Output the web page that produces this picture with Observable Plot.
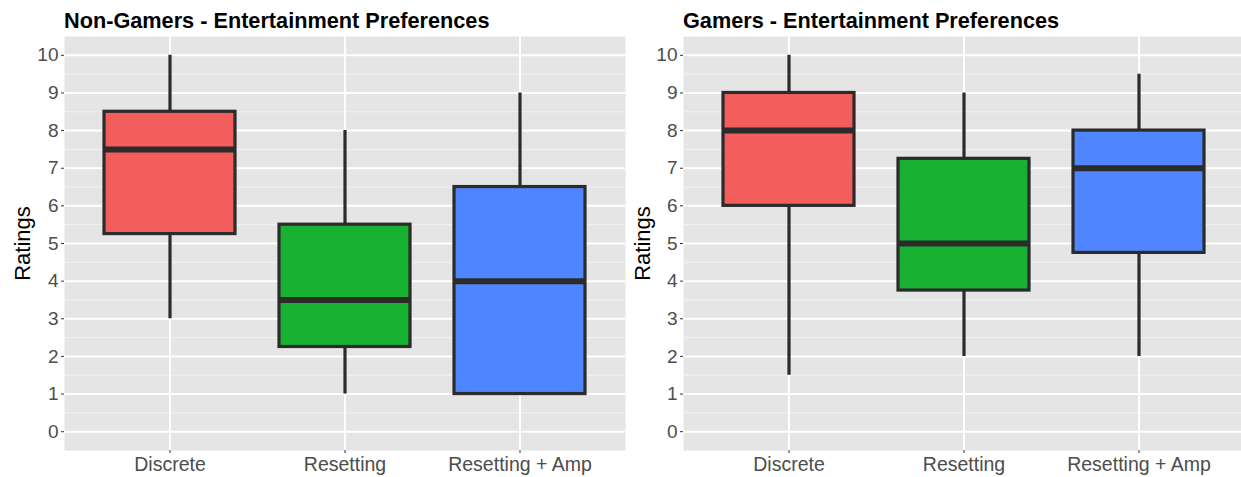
<!DOCTYPE html>
<html>
<head>
<meta charset="utf-8">
<script src="https://cdn.jsdelivr.net/npm/d3@7"></script>
<script src="https://cdn.jsdelivr.net/npm/@observablehq/plot@0.6"></script>
<style>
  html, body { margin: 0; padding: 0; background: #fff; overflow: hidden; }
  body { width: 1241px; height: 477px; position: relative; font-family: "Liberation Sans", Arial, sans-serif; }
  .panel { position: absolute; top: 0; }
  .panel svg { max-width: none !important; }
  .title { position: absolute; top: 8px; font-weight: bold; font-size: 21.7px; color: #000; white-space: nowrap; }
</style>
</head>
<body>
<div id="left" class="panel" style="left:0px;width:630px"></div>
<div id="right" class="panel" style="left:630px;width:614px"></div>
<div class="title" style="left:64px">Non-Gamers - Entertainment Preferences</div>
<div class="title" style="left:683px">Gamers - Entertainment Preferences</div>
<script>
const categories = ["Discrete", "Resetting", "Resetting + Amp"];
const yTicks = [0, 1, 2, 3, 4, 5, 6, 7, 8, 9, 10];
const yMinor = [0.5, 1.5, 2.5, 3.5, 4.5, 5.5, 6.5, 7.5, 8.5, 9.5];

// Non-Gamers
const ngMin = [3, 1, 1];
const ngQ1 = [5.25, 2.25, 1];
const ngMedian = [7.5, 3.5, 4];
const ngQ3 = [8.5, 5.5, 6.5];
const ngMax = [10, 8, 9];

// Gamers
const gMin = [1.5, 2, 2];
const gQ1 = [6, 3.75, 4.75];
const gMedian = [8, 5, 7];
const gQ3 = [9, 7.25, 8];
const gMax = [10, 9, 9.5];

const palette = ["#F35E5D", "#19B131", "#4F86FF"];
const ink = "#2b2b2b";

function panel(mins, q1s, meds, q3s, maxs, opts) {
  const data = categories.map((c, i) => ({cat: c, min: mins[i], q1: q1s[i], med: meds[i], q3: q3s[i], max: maxs[i]}));
  return Plot.plot({
    width: opts.width,
    height: 477,
    marginLeft: opts.marginLeft,
    marginRight: opts.marginRight,
    marginTop: 36,
    marginBottom: 27,
    style: {fontFamily: "'Liberation Sans', Arial, sans-serif", background: "transparent", overflow: "visible", maxWidth: "none"},
    x: {type: "band", domain: categories, paddingInner: 0.25, paddingOuter: 0.225, label: null},
    y: {domain: [-0.5, 10.5], label: null},
    color: {domain: categories, range: palette},
    marks: [
      Plot.frame({fill: "#E5E5E5", stroke: null}),
      Plot.ruleY(yMinor, {stroke: "#F2F2F2", strokeWidth: 1}),
      Plot.ruleY(yTicks, {stroke: "#FFFFFF", strokeWidth: 2}),
      Plot.ruleX(categories, {stroke: "#FFFFFF", strokeWidth: 2}),
      Plot.ruleX(data, {x: "cat", y1: "min", y2: "max", stroke: ink, strokeWidth: 3.2}),
      Plot.rectY(data, {x: "cat", y1: "q1", y2: "q3", fill: "cat", stroke: ink, strokeWidth: 3.2}),
      Plot.tickY(data, {x: "cat", y: "med", stroke: ink, strokeWidth: 6}),
      Plot.axisY({ticks: yTicks, tickSize: 3, tickPadding: 3, fontSize: 19, stroke: "#333", fill: "#4D4D4D", label: null}),
      Plot.axisX({tickSize: 3, tickPadding: 4, fontSize: 19.5, stroke: "#333", fill: "#4D4D4D", label: null}),
      Plot.text(["Ratings"], {frameAnchor: "left", textAnchor: "middle", dx: opts.labelDx, rotate: -90, fontSize: 22, fill: "#000"})
    ]
  });
}

document.getElementById("left").appendChild(
  panel(ngMin, ngQ1, ngMedian, ngQ3, ngMax, {width: 630, marginLeft: 64, marginRight: 5, labelDx: -42})
);
document.getElementById("right").appendChild(
  panel(gMin, gQ1, gMedian, gQ3, gMax, {width: 614, marginLeft: 53, marginRight: 0, labelDx: -41})
);
</script>
</body>
</html>
